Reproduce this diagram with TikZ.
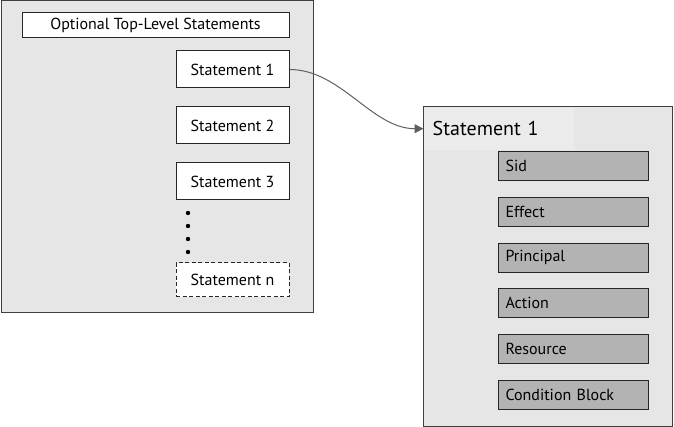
\documentclass[tikz,border=0pt]{standalone}
\usepackage{fontspec}
\setmainfont{PT Sans}
\usetikzlibrary{positioning,arrows.meta}
\definecolor{panelgray}{HTML}{E6E6E7}
\definecolor{headgray}{HTML}{EBEBEC}
\definecolor{fieldgray}{HTML}{B3B3B4}
\definecolor{linkgray}{HTML}{606062}

\begin{document}
\begin{tikzpicture}[x=1pt,y=-1pt,
    stbox/.style={draw=black!85,line width=1pt,fill=white,minimum width=113pt,
      minimum height=37pt,inner sep=0pt,font=\fontsize{16}{19}\selectfont},
    fieldbox/.style={draw=black!85,line width=1pt,fill=fieldgray,text width=136pt,
      align=left,minimum height=29pt,inner xsep=7pt,inner ysep=0pt,
      font=\fontsize{16}{19}\selectfont}]
      \useasboundingbox (0,0) rectangle (674,427);

      % policy document
      \draw[draw=black!75,line width=1pt,fill=panelgray] (1,1) rectangle (313,313);
      \node[stbox,minimum width=267pt,minimum height=25pt] (top) at (155.5,25.5)
        {Optional Top-Level Statements};
      \node[stbox] (s1) at (232.5,69.5) {Statement 1};
      \node[stbox,below=18pt of s1] (s2) {Statement 2};
      \node[stbox,below=18pt of s2] (s3) {Statement 3};
      \node[stbox,dash pattern=on 4pt off 2.5pt,minimum height=34pt] (sn) at (232.5,280)
        {Statement n};
      \foreach \y in {213,226,239,252}
        \fill (188,\y) circle (2.2pt);

      % one statement
      \draw[draw=black!75,line width=1pt,fill=panelgray] (423,107) rectangle (672,426);
      \node[fill=headgray,anchor=north west,minimum width=150pt,minimum height=42pt,
        inner xsep=9pt,text width=132pt,align=left,font=\fontsize{20}{24}\selectfont]
        (head) at (423.5,107.5) {Statement 1};
      \draw[draw=black!75,line width=1pt] (423,107) rectangle (672,426);
      \node[fieldbox,anchor=north west] (sid) at (498,151) {Sid};
      \node[fieldbox,below=15.8pt of sid] (eff) {Effect};
      \node[fieldbox,below=15.8pt of eff] (prin) {Principal};
      \node[fieldbox,below=15.8pt of prin] (act) {Action};
      \node[fieldbox,below=15.8pt of act] (res) {Resource};
      \node[fieldbox,below=15.8pt of res] (cond) {Condition Block};

      \draw[linkgray,line width=1pt,-{Triangle[length=9pt,width=9pt]}]
        (s1.east) to[out=0,in=180,looseness=0.9] (head.west);
    \end{tikzpicture}
\end{document}
